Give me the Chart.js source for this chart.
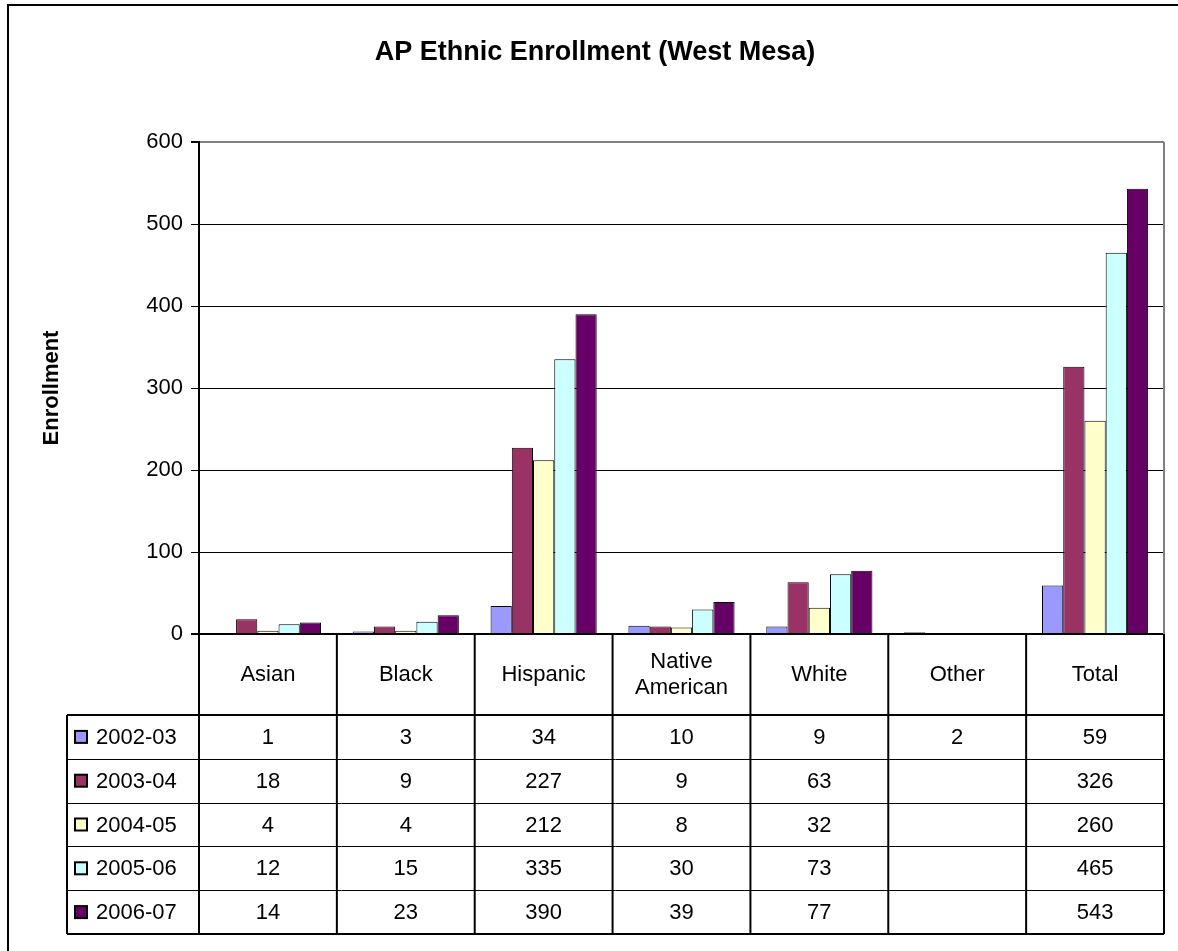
<!DOCTYPE html>
<html>
<head>
<meta charset="utf-8">
<script src="https://cdn.jsdelivr.net/npm/chart.js@4.4.1/dist/chart.umd.min.js"></script>
<style>
  html, body { margin: 0; padding: 0; background: #fff; }
</style>
</head>
<body>
<canvas id="grafica" width="1178" height="951"></canvas>
<script>
// Datos de la grafica
var categorias = ["Asian", "Black", "Hispanic", "Native American", "White", "Other", "Total"];
var etiquetasCategorias = [["Asian"], ["Black"], ["Hispanic"], ["Native", "American"], ["White"], ["Other"], ["Total"]];
var anios = ["2002-03", "2003-04", "2004-05", "2005-06", "2006-07"];
var valores0203 = [1, 3, 34, 10, 9, 2, 59];
var valores0304 = [18, 9, 227, 9, 63, null, 326];
var valores0405 = [4, 4, 212, 8, 32, null, 260];
var valores0506 = [12, 15, 335, 30, 73, null, 465];
var valores0607 = [14, 23, 390, 39, 77, null, 543];
var colores = ["#9999FF", "#993366", "#FFFFCC", "#CCFFFF", "#660066"];
var ticksY = [0, 100, 200, 300, 400, 500, 600];
var titulo = "AP Ethnic Enrollment (West Mesa)";
var tituloEjeY = "Enrollment";

var series = [valores0203, valores0304, valores0405, valores0506, valores0607];
var fuente = "Arial, 'Liberation Sans', sans-serif";

// Titulo, borde exterior, tabla de datos
var pluginTabla = {
  id: "tablaDatos",
  afterDraw: function (chart) {
    var ctx = chart.ctx;
    var area = chart.chartArea;
    var xs = chart.scales.x;
    var anchoCat = (area.right - area.left) / categorias.length;
    ctx.save();

    // borde exterior (solo se ve arriba y a la izquierda)
    ctx.strokeStyle = "#000";
    ctx.lineWidth = 2;
    ctx.beginPath();
    ctx.moveTo(8, 951);
    ctx.lineTo(8, 5);
    ctx.lineTo(1178, 5);
    ctx.stroke();

    // titulo
    ctx.fillStyle = "#000";
    ctx.font = "bold 27px " + fuente;
    ctx.textAlign = "center";
    ctx.textBaseline = "middle";
    ctx.fillText(titulo, 595, 53);

    // titulo eje Y
    ctx.save();
    ctx.translate(52, (area.top + area.bottom) / 2);
    ctx.rotate(-Math.PI / 2);
    ctx.font = "bold 22px " + fuente;
    ctx.fillText(tituloEjeY, 0, 0);
    ctx.restore();

    // borde derecho gris del area
    ctx.strokeStyle = "#808080";
    ctx.lineWidth = 2;
    ctx.beginPath();
    ctx.moveTo(area.right, area.top);
    ctx.lineTo(area.right, area.bottom);
    ctx.stroke();

    // tabla
    var altoEtiquetas = 81;
    var topTabla = area.bottom + altoEtiquetas;
    var altoFila = 43.8;
    var izqTabla = 67;
    var finTabla = topTabla + altoFila * anios.length;

    ctx.strokeStyle = "#000";
    ctx.lineWidth = 2;
    ctx.beginPath();
    // verticales de categorias
    for (var i = 0; i <= categorias.length; i++) {
      var x = area.left + anchoCat * i;
      ctx.moveTo(x, area.bottom);
      ctx.lineTo(x, finTabla);
    }
    ctx.moveTo(izqTabla, topTabla);
    ctx.lineTo(izqTabla, finTabla);
    ctx.moveTo(izqTabla, topTabla);
    ctx.lineTo(area.right, topTabla);
    ctx.moveTo(izqTabla, finTabla);
    ctx.lineTo(area.right, finTabla);
    ctx.stroke();

    ctx.lineWidth = 1;
    ctx.beginPath();
    for (var f = 1; f < anios.length; f++) {
      var y = Math.round(topTabla + altoFila * f) + 0.5;
      ctx.moveTo(izqTabla, y);
      ctx.lineTo(area.right, y);
    }
    ctx.stroke();

    ctx.font = "22px " + fuente;
    ctx.textAlign = "center";
    ctx.textBaseline = "middle";
    ctx.fillStyle = "#000";
    etiquetasCategorias.forEach(function (lineas, i) {
      var cx = xs.getPixelForValue(i);
      var cy = area.bottom + altoEtiquetas / 2;
      lineas.forEach(function (t, k) {
        ctx.fillText(t, cx, cy + (k - (lineas.length - 1) / 2) * 26);
      });
    });

    series.forEach(function (vals, f) {
      var cy = topTabla + altoFila * f + altoFila / 2;
      // clave de leyenda
      ctx.fillStyle = colores[f];
      ctx.fillRect(75, cy - 6, 12, 12);
      ctx.strokeStyle = "#000";
      ctx.lineWidth = 2;
      ctx.strokeRect(75, cy - 6, 12, 12);
      ctx.fillStyle = "#000";
      ctx.textAlign = "left";
      ctx.fillText(anios[f], 96, cy + 1);
      ctx.textAlign = "center";
      vals.forEach(function (v, i) {
        if (v !== null) ctx.fillText(String(v), xs.getPixelForValue(i), cy + 1);
      });
    });

    ctx.restore();
  }
};

var ctx = document.getElementById("grafica").getContext("2d");

var datasets = series.map(function (vals, i) {
  return {
    label: anios[i],
    data: vals,
    backgroundColor: colores[i],
    borderColor: "#000",
    borderWidth: 1,
    categoryPercentage: 0.77,
    barPercentage: 1
  };
});

new Chart(ctx, {
  type: "bar",
  data: { labels: categorias, datasets: datasets },
  options: {
    responsive: false,
    animation: false,
    layout: { padding: { left: 0, top: 142, right: 14, bottom: 317 } },
    plugins: {
      legend: { display: false },
      title: { display: false },
      tooltip: { enabled: false }
    },
    scales: {
      x: { display: false },
      y: {
        min: ticksY[0],
        max: ticksY[ticksY.length - 1],
        afterBuildTicks: function (scale) {
          scale.ticks = ticksY.map(function (v) { return { value: v }; });
        },
        afterFit: function (scale) { scale.width = 199; },
        ticks: {
          color: "#000",
          font: { family: fuente, size: 22 },
          padding: 8
        },
        grid: {
          color: function (c) { return c.tick && c.tick.value === 600 ? "#808080" : "#000"; },
          lineWidth: function (c) { return c.tick && (c.tick.value === 0 || c.tick.value === 600) ? 2 : 1; },
          tickColor: "#000",
          tickLength: 8
        },
        border: { color: "#000", width: 2 }
      }
    }
  },
  plugins: [pluginTabla]
});
</script>
</body>
</html>
